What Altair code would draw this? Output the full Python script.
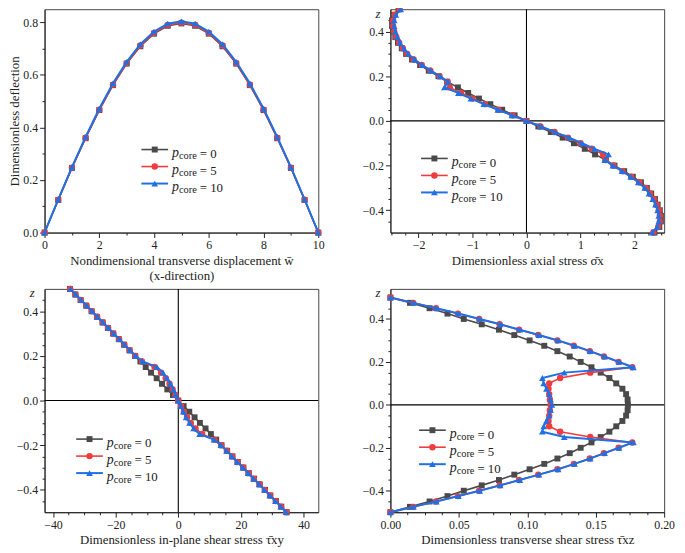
import altair as alt
import pandas as pd

# ---------------- data ----------------
LEG_VALUES = ["= 0", "= 5", "= 10"]

# Panel 1: deflection along x
X_DEFL = [0, 0.5, 1, 1.5, 2, 2.5, 3, 3.5, 4, 4.5, 5, 5.5, 6, 6.5, 7, 7.5, 8, 8.5, 9, 9.5, 10]
DEFL_P0 = [0, 0.124, 0.246, 0.359, 0.466, 0.561, 0.643, 0.709, 0.757, 0.787, 0.796,
           0.787, 0.757, 0.709, 0.643, 0.561, 0.466, 0.359, 0.246, 0.124, 0]
DEFL_P5 = [0, 0.125, 0.247, 0.361, 0.468, 0.563, 0.645, 0.712, 0.760, 0.790, 0.799,
           0.790, 0.760, 0.712, 0.645, 0.563, 0.468, 0.361, 0.247, 0.125, 0]
DEFL_P10 = [0, 0.126, 0.249, 0.364, 0.472, 0.568, 0.650, 0.717, 0.765, 0.795, 0.804,
            0.795, 0.765, 0.717, 0.650, 0.568, 0.472, 0.364, 0.249, 0.126, 0]

# thickness coordinate z (top to bottom)
Z = [0.5, 0.475, 0.45, 0.425, 0.4, 0.375, 0.35, 0.325, 0.3, 0.275, 0.25, 0.225, 0.2, 0.175,
     0.15, 0.125, 0.1, 0.075, 0.05, 0.025, 0.0,
     -0.025, -0.05, -0.075, -0.1, -0.125, -0.15, -0.175, -0.2, -0.225, -0.25, -0.275, -0.3,
     -0.325, -0.35, -0.375, -0.4, -0.425, -0.45, -0.475, -0.5]

# Panel 2: axial stress
SX_P0 = [-2.37, -2.46, -2.49, -2.49, -2.47, -2.43, -2.38, -2.31, -2.23, -2.12, -1.97, -1.81, -1.63, -1.47,
         -1.27, -1.08, -0.88, -0.67, -0.45, -0.22, 0.0,
         0.22, 0.45, 0.67, 0.88, 1.08, 1.27, 1.47, 1.63, 1.81, 1.97, 2.12, 2.23, 2.31, 2.38, 2.43,
         2.47, 2.49, 2.49, 2.46, 2.37]
SX_P5 = [-2.35, -2.44, -2.47, -2.47, -2.45, -2.41, -2.36, -2.29, -2.21, -2.09, -1.94, -1.78, -1.61, -1.46,
         -1.42, -1.21, -1.00, -0.77, -0.52, -0.26, 0.0,
         0.26, 0.52, 0.77, 1.00, 1.21, 1.42, 1.46, 1.61, 1.78, 1.94, 2.09, 2.21, 2.29, 2.36, 2.41,
         2.45, 2.47, 2.47, 2.44, 2.35]
SX_P10 = [-2.33, -2.42, -2.45, -2.45, -2.43, -2.39, -2.34, -2.27, -2.19, -2.07, -1.93, -1.77, -1.60, -1.45,
          -1.52, -1.26, -1.03, -0.79, -0.53, -0.27, 0.0,
          0.27, 0.53, 0.79, 1.03, 1.26, 1.52, 1.45, 1.60, 1.77, 1.93, 2.07, 2.19, 2.27, 2.34, 2.39,
          2.43, 2.45, 2.45, 2.42, 2.33]

# Panel 3: in-plane shear stress
TXY_P0 = [-34.6, -32.9, -31.2, -29.4, -27.7, -26.0, -24.2, -22.5, -20.8, -19.0, -17.3, -15.6, -13.8, -12.1,
          -10.4, -8.7, -6.9, -5.2, -3.5, -1.7, 0.0,
          1.7, 3.5, 5.2, 6.9, 8.7, 10.4, 12.1, 13.8, 15.6, 17.3, 19.0, 20.8, 22.5, 24.2, 26.0,
          27.7, 29.4, 31.2, 32.9, 34.6]
TXY_P5 = [-34.5, -32.8, -31.1, -29.3, -27.6, -25.9, -24.1, -22.4, -20.7, -18.9, -17.2, -15.5, -13.7, -11.6,
          -7.6, -5.5, -4.0, -2.8, -1.8, -0.9, 0.0,
          0.9, 1.8, 2.8, 4.0, 5.5, 7.6, 11.6, 13.7, 15.5, 17.2, 18.9, 20.7, 22.4, 24.1, 25.9,
          27.6, 29.3, 31.1, 32.8, 34.5]
TXY_P10 = [-34.4, -32.7, -31.0, -29.2, -27.5, -25.8, -24.0, -22.3, -20.6, -18.8, -17.1, -15.4, -13.6, -11.4,
           -6.8, -4.9, -3.6, -2.5, -1.6, -0.8, 0.0,
           0.8, 1.6, 2.5, 3.6, 4.9, 6.8, 11.4, 13.6, 15.4, 17.1, 18.8, 20.6, 22.3, 24.0, 25.8,
           27.5, 29.2, 31.0, 32.7, 34.4]

# Panel 4: transverse shear stress
TXZ_P0 = [0.0, 0.0143, 0.0286, 0.0417, 0.0536, 0.0667, 0.0793, 0.0905, 0.1017, 0.1124, 0.1220, 0.1310,
          0.1390, 0.1469, 0.1536, 0.1600, 0.1650, 0.1695, 0.1722, 0.1733, 0.1735,
          0.1733, 0.1722, 0.1695, 0.1650, 0.1600, 0.1536, 0.1469, 0.1390, 0.1310, 0.1220, 0.1124,
          0.1017, 0.0905, 0.0793, 0.0667, 0.0536, 0.0417, 0.0286, 0.0143, 0.0]
TXZ_P5 = [0.0, 0.0167, 0.0333, 0.0493, 0.0648, 0.0798, 0.0940, 0.1080, 0.1220, 0.1340, 0.1457, 0.1560,
          0.1667, 0.1767, 0.1460, 0.1240, 0.1160, 0.1155, 0.1160, 0.1165, 0.1170,
          0.1165, 0.1160, 0.1155, 0.1160, 0.1240, 0.1460, 0.1767, 0.1667, 0.1560, 0.1457, 0.1340,
          0.1220, 0.1080, 0.0940, 0.0798, 0.0648, 0.0493, 0.0333, 0.0167, 0.0]
TXZ_P10 = [0.0, 0.0168, 0.0335, 0.0496, 0.0652, 0.0802, 0.0945, 0.1085, 0.1225, 0.1345, 0.1460, 0.1565,
           0.1670, 0.1775, 0.1270, 0.1110, 0.1120, 0.1140, 0.1160, 0.1170, 0.1180,
           0.1170, 0.1160, 0.1140, 0.1120, 0.1110, 0.1270, 0.1775, 0.1670, 0.1565, 0.1460, 0.1345,
           0.1225, 0.1085, 0.0945, 0.0802, 0.0652, 0.0496, 0.0335, 0.0168, 0.0]

# ---------------- styling ----------------
FONT = "Liberation Serif, Times New Roman, serif"
COLORS = ["#4a4a4a", "#f03c3c", "#1f6fe5"]
SHAPES = ["square", "circle", "triangle-up"]
SIZES = [36, 42, 46]
LWIDTHS = [1.6, 1.6, 2.0]
W, H = 277, 226


def tick_values(lo, hi, step):
    n = int(round((hi - lo) / step))
    return [round(lo + i * step, 6) + 0.0 for i in range(n + 1)]


def major_test(step):
    return f"abs(datum.value / {step} - round(datum.value / {step})) < 1e-6"


def make_axis(title, lo, hi, minor, major, fmt, **kw):
    return alt.Axis(
        title=title, values=tick_values(lo, hi, minor), format=fmt,
        labelExpr=f"{major_test(major)} ? datum.label : ''",
        tickSize={"condition": {"test": major_test(major), "value": 5}, "value": 2.5},
        labelOverlap=False, labelFlush=False, grid=False, **kw)


def z_axis():
    return make_axis("z", -0.45, 0.45, 0.05, 0.2, ".1f", titleAngle=0, titleFontStyle="italic",
                     titleX=-13, titleY=4, titleAlign="center", titleBaseline="middle")


def legend_layers(x0, y0, dy=17.2):
    one = pd.DataFrame({"k": [0]})
    layers = []
    for k in range(3):
        y = y0 + k * dy
        c = alt.Chart(one)
        layers.append(c.mark_rule(color=COLORS[k], strokeWidth=LWIDTHS[k]).encode(
            x=alt.value(x0), x2=alt.value(x0 + 27), y=alt.value(y)))
        layers.append(c.mark_point(shape=SHAPES[k], filled=True, size=SIZES[k], color=COLORS[k],
                                   opacity=1).encode(x=alt.value(x0 + 13.5), y=alt.value(y)))
        layers.append(c.mark_text(text="p", font=FONT, fontStyle="italic", fontSize=14, align="left",
                                  color="#222").encode(x=alt.value(x0 + 31), y=alt.value(y + 4)))
        layers.append(c.mark_text(text="core", font=FONT, fontSize=10.5, align="left",
                                  color="#222").encode(x=alt.value(x0 + 38), y=alt.value(y + 7)))
        layers.append(c.mark_text(text=LEG_VALUES[k], font=FONT, fontSize=13, align="left",
                                  color="#222").encode(x=alt.value(x0 + 59), y=alt.value(y + 4.5)))
    return layers


def panel(xs, ys, xsc, ysc, xax, yax, order_by_index, rules, leg, height=H):
    layers = []
    one = pd.DataFrame({"k": [0]})
    if "v" in rules:
        layers.append(alt.Chart(one).mark_rule(color="black", strokeWidth=1.1).encode(
            x=alt.X(datum=0, type="quantitative", scale=xsc, axis=xax)))
    if "h" in rules:
        layers.append(alt.Chart(one).mark_rule(color="black", strokeWidth=1.1).encode(
            y=alt.Y(datum=0, type="quantitative", scale=ysc, axis=yax)))
    for k in range(3):
        df = pd.DataFrame({"x": xs[k], "y": ys[k], "i": list(range(len(ys[k])))})
        enc = dict(x=alt.X("x:Q", scale=xsc, axis=xax), y=alt.Y("y:Q", scale=ysc, axis=yax))
        if order_by_index:
            enc["order"] = alt.Order("i:Q")
        base = alt.Chart(df)
        layers.append(base.mark_line(color=COLORS[k], strokeWidth=LWIDTHS[k]).encode(**enc))
        layers.append(base.mark_point(shape=SHAPES[k], filled=True, size=SIZES[k], color=COLORS[k],
                                      opacity=1).encode(**enc))
    layers += legend_layers(*leg)
    return alt.layer(*layers).properties(width=W, height=height)


# Panel 1
p1 = panel(
    [X_DEFL, X_DEFL, X_DEFL], [DEFL_P0, DEFL_P5, DEFL_P10],
    alt.Scale(domain=[0, 10], nice=False, zero=False),
    alt.Scale(domain=[0, 0.85], nice=False, zero=False),
    make_axis(["Nondimensional transverse displacement w̄", "(x-direction)"], 0, 10, 1, 2, "d",
              titleLineHeight=16),
    make_axis("Dimensionless deflection", 0, 0.8, 0.1, 0.2, ".1f", titlePadding=1),
    False, "", (98, 142))

# Panel 2
p2 = panel(
    [SX_P0, SX_P5, SX_P10], [Z, Z, Z],
    alt.Scale(domain=[-2.52, 2.55], nice=False, zero=False),
    alt.Scale(domain=[-0.5, 0.5], nice=False, zero=False),
    make_axis("Dimensionless axial stress σ̄x", -2.5, 2.5, 0.25, 1, ".0f"),
    z_axis(),
    True, "vh", (31, 151))

# Panel 3
p3 = panel(
    [TXY_P0, TXY_P5, TXY_P10], [Z, Z, Z],
    alt.Scale(domain=[-42.7, 44.7], nice=False, zero=False),
    alt.Scale(domain=[-0.5, 0.5], nice=False, zero=False),
    make_axis("Dimensionless in-plane shear stress τ̄xy", -40, 40, 5, 20, "d"),
    z_axis(),
    True, "vh", (32, 152))

# Panel 4
p4 = panel(
    [TXZ_P0, TXZ_P5, TXZ_P10], [Z, Z, Z],
    alt.Scale(domain=[0, 0.2], nice=False, zero=False),
    alt.Scale(domain=[-0.5, 0.54], nice=False, zero=False),
    make_axis("Dimensionless transverse shear stress τ̄xz", 0, 0.2, 0.0125, 0.05, ".2f"),
    z_axis(),
    True, "h", (29, 143))

chart = alt.concat(
    p1, p2, p3, p4, columns=2,
    spacing={"row": 57, "column": 73}, bounds="flush",
).properties(
    padding={"left": 0, "top": -7, "right": 2, "bottom": 0}
).configure_axis(
    labelFont=FONT, titleFont=FONT, labelFontSize=12, titleFontSize=13, titleFontWeight="normal",
    labelColor="#222", titleColor="#222", domainColor="#222", tickColor="#222",
    labelPadding=2, titlePadding=4,
).configure_view(stroke="#444", strokeWidth=1)

chart.save("out.html", embed_options={"renderer": "svg", "actions": False})
